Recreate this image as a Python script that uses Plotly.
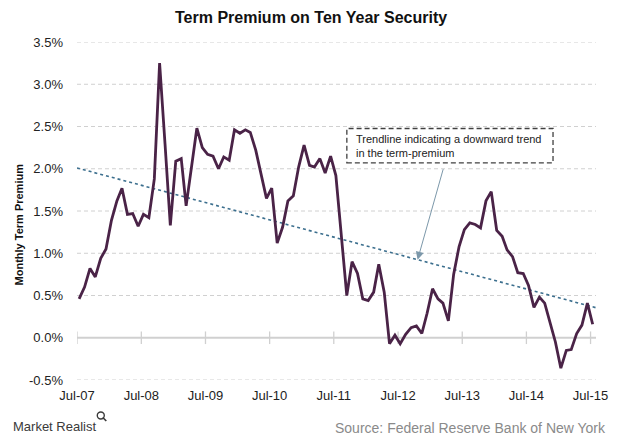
import numpy as np
import pandas as pd
import plotly.graph_objects as go

# ---- data ----
start_month = "2007-07-01"
term_premium = [
    0.46, 0.60, 0.82, 0.72, 0.94, 1.05, 1.39, 1.62, 1.77, 1.46, 1.47, 1.32,   # Jul07-Jun08
    1.46, 1.42, 1.88, 3.25, 2.29, 1.33, 2.09, 2.12, 1.56, 2.02, 2.48, 2.25,   # Jul08-Jun09
    2.17, 2.15, 2.00, 2.14, 2.10, 2.46, 2.42, 2.46, 2.43, 2.22, 1.94, 1.65,   # Jul09-Jun10
    1.77, 1.12, 1.31, 1.62, 1.68, 2.02, 2.28, 2.04, 2.02, 2.12, 1.95, 2.15,   # Jul10-Jun11
    1.92, 1.19, 0.50, 0.90, 0.76, 0.46, 0.44, 0.54, 0.87, 0.54, -0.07, 0.03,  # Jul11-Jun12
    -0.07, 0.04, 0.12, 0.14, 0.05, 0.29, 0.58, 0.46, 0.41, 0.20, 0.75, 1.08,  # Jul12-Jun13
    1.28, 1.36, 1.34, 1.30, 1.62, 1.73, 1.27, 1.20, 1.04, 0.96, 0.77, 0.76,   # Jul13-Jun14
    0.62, 0.36, 0.48, 0.41, 0.18, -0.05, -0.36, -0.15, -0.14, 0.05, 0.15, 0.41,  # Jul14-Jun15
    0.16,                                                                      # Jul15
]
tick_dates = ["2007-07-01", "2008-07-01", "2009-07-01", "2010-07-01", "2011-07-01",
              "2012-07-01", "2013-07-01", "2014-07-01", "2015-07-01"]
tick_labels = ["Jul-07", "Jul-08", "Jul-09", "Jul-10", "Jul-11",
               "Jul-12", "Jul-13", "Jul-14", "Jul-15"]
y_ticks = [-0.5, 0.0, 0.5, 1.0, 1.5, 2.0, 2.5, 3.0, 3.5]
y_tick_labels = ["-0.5%", "0.0%", "0.5%", "1.0%", "1.5%", "2.0%", "2.5%", "3.0%", "3.5%"]
grid_levels = [-0.5, 0.5, 1.0, 1.5, 2.0, 2.5, 3.0, 3.5]

months = pd.date_range(start_month, periods=len(term_premium), freq="MS") + pd.Timedelta(days=12)

# linear trendline (least squares) like the spreadsheet trendline
idx = np.arange(len(term_premium))
slope, intercept = np.polyfit(idx, term_premium, 1)
x_range = [pd.Timestamp("2007-07-01"), pd.Timestamp("2015-08-01")]


def trend_at(d):
    return intercept + slope * ((d - months[0]).days / 30.44)


trend_y = [trend_at(d) for d in x_range]

# ---- layout geometry ----
W, H = 620, 443
L, R, T, B = 76.7, 596, 41.7, 380


def px(x):
    return (x - L) / (R - L)


def py(y):
    return (B - y) / (B - T)


FONT = "Arial, Liberation Sans, sans-serif"
GRID = "#D0D0D0"
fig = go.Figure()

# dashed horizontal grid lines and solid zero line as line traces
for g in grid_levels:
    fig.add_trace(go.Scatter(
        x=x_range, y=[g, g], mode="lines",
        line=dict(color=GRID, width=1, dash="4px,3px"),
        hoverinfo="skip", showlegend=False,
    ))
fig.add_trace(go.Scatter(
    x=x_range, y=[0, 0], mode="lines",
    line=dict(color=GRID, width=2),
    hoverinfo="skip", showlegend=False,
))
# small tick marks on the zero line
fig.add_trace(go.Scatter(
    x=tick_dates, y=[0] * len(tick_dates), mode="markers",
    marker=dict(symbol="line-ns-open", size=9, color=GRID, line=dict(color=GRID, width=1.3)),
    hoverinfo="skip", showlegend=False,
))
fig.add_trace(go.Scatter(
    x=x_range, y=trend_y, mode="lines",
    line=dict(color="#3C6F8E", width=1.6, dash="dot"),
    hoverinfo="skip", showlegend=False,
))
fig.add_trace(go.Scatter(
    x=months, y=term_premium, mode="lines",
    line=dict(color="#4A2347", width=2.8),
    showlegend=False,
))

fig.update_layout(
    width=W, height=H,
    margin=dict(l=L, r=W - R, t=T, b=H - B, autoexpand=False),
    paper_bgcolor="white", plot_bgcolor="white",
    font=dict(family=FONT, color="#333333", size=13),
    xaxis=dict(
        range=x_range, tickmode="array", tickvals=tick_dates, ticktext=tick_labels,
        showgrid=False, zeroline=False, showline=False, ticks="",
        tickfont=dict(size=13, color="#222222"), ticklabelstandoff=6,
    ),
    yaxis=dict(
        range=[-0.5, 3.5], tickmode="array", tickvals=y_ticks, ticktext=y_tick_labels,
        showgrid=False, zeroline=False,
        tickfont=dict(size=13, color="#222222"), ticklabelstandoff=13,
        showline=False, ticks="",
    ),
)

annotations = [
    dict(text="<b>Term Premium on Ten Year Security</b>", xref="paper", yref="paper",
         x=px(311), y=py(17), showarrow=False, font=dict(size=16, color="#111111"),
         xanchor="center", yanchor="middle"),
    dict(text="<b>Monthly Term Premium</b>", xref="paper", yref="paper",
         x=px(19), y=py(224), showarrow=False, textangle=-90,
         font=dict(size=11, color="#111111"), xanchor="center", yanchor="middle"),
    dict(text="Trendline indicating a downward trend<br>in the term-premium",
         xref="paper", yref="paper", x=px(354), y=py(145.5), showarrow=False,
         align="left", xanchor="left", yanchor="middle",
         font=dict(size=11, color="#222222")),
    dict(text="", x=pd.Timestamp("2012-10-20"), y=trend_at(pd.Timestamp("2012-10-20")),
         xref="x", yref="y", showarrow=True, ax=26, ay=-92,
         arrowcolor="#7C98AA", arrowwidth=1, arrowhead=2, arrowsize=1.6),
    dict(text="Market Realist", xref="paper", yref="paper", x=px(11), y=py(427),
         showarrow=False, xanchor="left", yanchor="middle",
         font=dict(size=13, color="#3A3A3A")),
    dict(text="Source: Federal Reserve Bank of New York", xref="paper", yref="paper",
         x=px(608), y=py(428), showarrow=False, xanchor="right", yanchor="middle",
         font=dict(size=14, color="#8A8A8A")),
]
fig.update_layout(annotations=annotations)

shapes = [
    dict(type="rect", xref="paper", yref="paper",
         x0=px(346.7), x1=px(553), y0=py(162.7), y1=py(128.3),
         line=dict(color="#404040", width=1.3, dash="5px,3px"), fillcolor="rgba(0,0,0,0)"),
    dict(type="circle", xref="paper", yref="paper",
         x0=px(97), x1=px(104), y0=py(419), y1=py(412),
         line=dict(color="#3A3A3A", width=1.4)),
    dict(type="line", xref="paper", yref="paper",
         x0=px(102.5), x1=px(106), y0=py(417.5), y1=py(421),
         line=dict(color="#3A3A3A", width=1.6)),
]
fig.update_layout(shapes=shapes)

fig.write_html("out.html", config={"displayModeBar": False},
               post_script="document.body.style.margin='0';")
